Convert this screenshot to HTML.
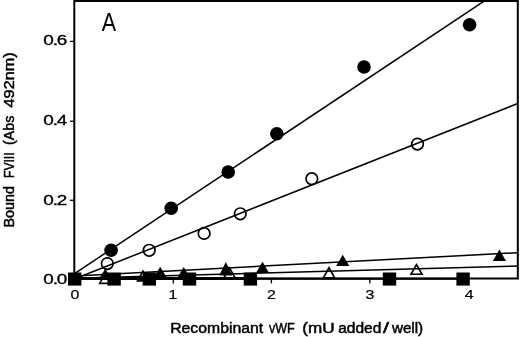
<!DOCTYPE html>
<html><head><meta charset="utf-8"><title>Figure A</title>
<style>
html,body{margin:0;padding:0;background:#fff;}
svg{display:block;}
text{font-family:"Liberation Sans","DejaVu Sans",sans-serif;fill:#000;}
</style></head><body>
<svg width="520" height="337" viewBox="0 0 520 337">
<rect width="520" height="337" fill="#fff"/>

<polygon points="105.20,271.80 98.30,284.20 112.10,284.20" fill="#000"/><polygon points="105.20,275.09 101.02,282.60 109.38,282.60" fill="#fff"/>
<polygon points="143.00,269.50 136.10,281.70 149.90,281.70" fill="#000"/><polygon points="143.00,272.75 138.84,280.10 147.16,280.10" fill="#fff"/>
<polygon points="229.50,266.30 222.60,278.60 236.40,278.60" fill="#000"/><polygon points="229.50,269.57 225.33,277.00 233.67,277.00" fill="#fff"/>
<polygon points="329.00,266.10 322.10,278.60 335.90,278.60" fill="#000"/><polygon points="329.00,269.41 324.81,277.00 333.19,277.00" fill="#fff"/>
<polygon points="416.50,263.10 409.60,275.00 423.40,275.00" fill="#000"/><polygon points="416.50,266.29 412.38,273.40 420.62,273.40" fill="#fff"/>
<circle cx="107.3" cy="263.6" r="5.8" fill="#fff" stroke="#000" stroke-width="1.7"/>
<circle cx="149.2" cy="250.3" r="5.8" fill="#fff" stroke="#000" stroke-width="1.7"/>
<circle cx="204.1" cy="233.4" r="5.8" fill="#fff" stroke="#000" stroke-width="1.7"/>
<circle cx="240.3" cy="213.8" r="5.8" fill="#fff" stroke="#000" stroke-width="1.7"/>
<circle cx="311.8" cy="178.7" r="5.8" fill="#fff" stroke="#000" stroke-width="1.7"/>
<circle cx="417.5" cy="144.1" r="5.8" fill="#fff" stroke="#000" stroke-width="1.7"/>
<path d="M74.3,279.5 V0.9 H517.8 V278.6 H74.3" fill="none" stroke="#000" stroke-width="2"/>
<line x1="69.9" y1="41.4" x2="74.3" y2="41.4" stroke="#000" stroke-width="1.3"/>
<line x1="69.9" y1="121.2" x2="74.3" y2="121.2" stroke="#000" stroke-width="1.3"/>
<line x1="69.9" y1="200.3" x2="74.3" y2="200.3" stroke="#000" stroke-width="1.3"/>
<line x1="69.9" y1="279" x2="74.3" y2="279" stroke="#000" stroke-width="1.3"/>
<line x1="74.7" y1="278.6" x2="74.7" y2="283.4" stroke="#000" stroke-width="1.3"/>
<line x1="173.3" y1="278.6" x2="173.3" y2="283.4" stroke="#000" stroke-width="1.3"/>
<line x1="271.4" y1="278.6" x2="271.4" y2="283.4" stroke="#000" stroke-width="1.3"/>
<line x1="369.9" y1="278.6" x2="369.9" y2="283.4" stroke="#000" stroke-width="1.3"/>
<line x1="467.8" y1="278.6" x2="467.8" y2="283.4" stroke="#000" stroke-width="1.3"/>
<g stroke="#000" stroke-width="1.5" fill="none">
<line x1="75" y1="273.3" x2="484.5" y2="0.9"/>
<line x1="75" y1="278.7" x2="517.8" y2="103.5"/>
<line x1="75" y1="275.9" x2="517.8" y2="252.7"/>
<line x1="75" y1="278.3" x2="517.8" y2="266.1"/>
</g>
<line x1="75" y1="278.5" x2="250" y2="278.5" stroke="#000" stroke-width="2.8"/>
<line x1="250" y1="278.7" x2="463" y2="278.7" stroke="#000" stroke-width="2.1"/>
<polygon points="105.30,268.70 98.70,279.50 111.90,279.50" fill="#000"/>
<polygon points="160.20,266.70 153.60,277.80 166.80,277.80" fill="#000"/>
<polygon points="183.70,266.90 177.10,278.20 190.30,278.20" fill="#000"/>
<polygon points="225.80,262.00 219.20,275.40 232.40,275.40" fill="#000"/>
<polygon points="262.50,261.70 255.90,273.00 269.10,273.00" fill="#000"/>
<polygon points="342.70,254.80 336.10,266.10 349.30,266.10" fill="#000"/>
<polygon points="499.40,249.50 492.80,261.10 506.00,261.10" fill="#000"/>
<rect x="68.00" y="272.5" width="13.4" height="13.1" fill="#000"/>
<rect x="107.40" y="272.5" width="13.4" height="13.1" fill="#000"/>
<rect x="142.60" y="272.5" width="13.4" height="13.1" fill="#000"/>
<rect x="182.80" y="272.5" width="13.4" height="13.1" fill="#000"/>
<rect x="243.70" y="272.5" width="13.4" height="13.1" fill="#000"/>
<rect x="382.80" y="272.5" width="13.4" height="13.1" fill="#000"/>
<rect x="456.40" y="272.5" width="13.4" height="13.1" fill="#000"/>
<circle cx="111.1" cy="250.2" r="6.8" fill="#000"/>
<circle cx="171.2" cy="208.2" r="6.8" fill="#000"/>
<circle cx="228.2" cy="172" r="6.8" fill="#000"/>
<circle cx="276.8" cy="133.8" r="6.8" fill="#000"/>
<circle cx="364" cy="67" r="6.8" fill="#000"/>
<circle cx="469.6" cy="24.8" r="6.8" fill="#000"/>
<text transform="translate(43.3,45.4) scale(1.37,1)" font-size="13.8" letter-spacing="-0.8" stroke="#000" stroke-width="0.3">0.6</text>
<text transform="translate(43.3,125.2) scale(1.37,1)" font-size="13.8" letter-spacing="-0.8" stroke="#000" stroke-width="0.3">0.4</text>
<text transform="translate(43.3,204.7) scale(1.37,1)" font-size="13.8" letter-spacing="-0.8" stroke="#000" stroke-width="0.3">0.2</text>
<text transform="translate(43.3,283.6) scale(1.37,1)" font-size="13.8" letter-spacing="-0.8" stroke="#000" stroke-width="0.3">0.0</text>
<text transform="translate(74.85,298.9) scale(1.19,1)" font-size="13.4" text-anchor="middle" stroke="#000" stroke-width="0.2">0</text>
<text transform="translate(173.0,298.9) scale(1.19,1)" font-size="13.4" text-anchor="middle" stroke="#000" stroke-width="0.2">1</text>
<text transform="translate(271.5,298.9) scale(1.19,1)" font-size="13.4" text-anchor="middle" stroke="#000" stroke-width="0.2">2</text>
<text transform="translate(370,298.9) scale(1.19,1)" font-size="13.4" text-anchor="middle" stroke="#000" stroke-width="0.2">3</text>
<text transform="translate(469.2,298.9) scale(1.19,1)" font-size="13.4" text-anchor="middle" stroke="#000" stroke-width="0.2">4</text>
<text transform="translate(101.7,31.0) scale(0.86,1)" font-size="25">A</text>
<text y="332.6" font-size="13.8" stroke="#000" stroke-width="0.45"><tspan x="170.2" textLength="93.0" lengthAdjust="spacingAndGlyphs">Recombinant</tspan> <tspan x="268.9" textLength="25.8" lengthAdjust="spacingAndGlyphs">vWF</tspan> <tspan x="302.3" textLength="32.3" lengthAdjust="spacingAndGlyphs">(mU</tspan> <tspan x="338.2" textLength="43.1" lengthAdjust="spacingAndGlyphs">added</tspan><tspan x="383.0" textLength="6.0" lengthAdjust="spacingAndGlyphs">/</tspan><tspan x="391.9" textLength="31.3" lengthAdjust="spacingAndGlyphs">well)</tspan></text>
<g transform="translate(14.0,227.6) rotate(-90)">
<text y="0" font-size="13.8" stroke="#000" stroke-width="0.45"><tspan x="0" textLength="41.6" lengthAdjust="spacingAndGlyphs">Bound</tspan> <tspan x="49.7" textLength="25.5" lengthAdjust="spacingAndGlyphs">FVIII</tspan> <tspan x="82.7" textLength="29.2" lengthAdjust="spacingAndGlyphs">(Abs</tspan> <tspan x="120.2" textLength="55.0" lengthAdjust="spacingAndGlyphs">492nm)</tspan></text>
</g>
</svg></body></html>
